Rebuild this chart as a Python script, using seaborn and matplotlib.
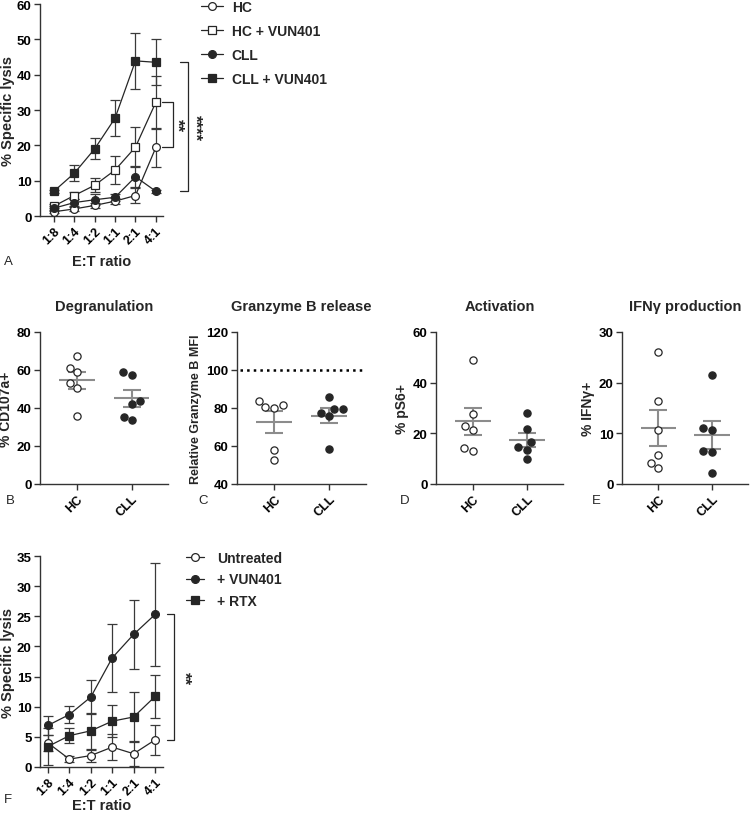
import matplotlib
import matplotlib.pyplot as plt
import numpy as np
import pandas as pd
import seaborn as sns

matplotlib.use("Agg")

# E:T ratio lysis curves (mean and SEM)
ratios = ["1:8", "1:4", "1:2", "1:1", "2:1", "4:1"]

hc = [1.2, 2.0, 3.0, 4.2, 5.8, 19.4]
hc_err = [0.3, 0.5, 0.6, 0.8, 2.0, 5.4]
hc_vun = [2.8, 5.8, 8.7, 13.0, 19.5, 32.2]
hc_vun_err = [0.5, 1.0, 2.0, 4.0, 5.7, 7.5]
cll = [2.2, 3.8, 4.6, 5.3, 11.1, 7.0]
cll_err = [0.5, 1.0, 1.5, 1.0, 3.0, 0.5]
cll_vun = [7.0, 12.1, 19.0, 27.7, 43.9, 43.5]
cll_vun_err = [0.5, 2.2, 3.0, 5.0, 8.0, 6.5]

untreated = [4.0, 1.3, 1.9, 3.3, 2.2, 4.5]
untreated_err = [1.3, 0.5, 1.0, 2.2, 2.1, 2.5]
plus_vun = [6.9, 8.7, 11.6, 18.1, 22.0, 25.3]
plus_vun_err = [1.6, 1.4, 2.8, 5.6, 5.7, 8.5]
plus_rtx = [3.4, 5.2, 6.0, 7.6, 8.3, 11.7]
plus_rtx_err = [3.0, 1.3, 3.0, 2.7, 4.2, 3.6]

# per-donor scatter values
groups = ["HC", "CLL"]
degran_hc = [67.5, 61.2, 58.8, 53.0, 50.5, 36.0]
degran_cll = [58.7, 57.5, 43.5, 42.3, 35.5, 33.5]
gzmb_hc = [83.9, 81.4, 80.7, 80.2, 57.7, 52.5]
gzmb_cll = [86.0, 79.5, 79.3, 77.2, 75.6, 58.4]
ps6_hc = [49.1, 27.5, 22.8, 21.2, 14.4, 13.2]
ps6_cll = [28.1, 21.9, 16.4, 14.6, 13.5, 9.9]
ifng_hc = [26.0, 16.3, 10.6, 5.7, 4.2, 3.2]
ifng_cll = [21.5, 11.0, 10.6, 6.5, 6.3, 2.1]

LINE = "#262626"
AXIS = "#333333"
GREY = "#8c8c8c"

sns.set_theme(style="ticks")
plt.rcParams["font.family"] = ["Liberation Sans", "DejaVu Sans"]
plt.rcParams["font.weight"] = "bold"
plt.rcParams["axes.labelweight"] = "bold"
plt.rcParams["axes.titleweight"] = "bold"
plt.rcParams["axes.edgecolor"] = AXIS
plt.rcParams["axes.linewidth"] = 1.0

fig = plt.figure(figsize=(7.5, 8.2), dpi=100)


def px_axes(left, top, right, bottom):
    return fig.add_axes([left / 750, 1 - bottom / 820, (right - left) / 750, (bottom - top) / 820])


def style_axes(ax, labelsize=9.5):
    sns.despine(ax=ax)
    ax.tick_params(length=4, width=1, color=AXIS, labelsize=labelsize, pad=2, labelcolor="black")


def lysis_series(ax, values, errs, marker, filled, label):
    pos = np.arange(len(values))
    ax.errorbar(pos, values, yerr=errs, fmt="none", ecolor="#3a3a3a", elinewidth=0.9,
                capsize=3.5, capthick=0.9, zorder=2, clip_on=False)
    sns.lineplot(x=pos, y=values, ax=ax, color=LINE, linewidth=0.9, marker=marker,
                 markersize=5.6 if marker == "o" else 5.8,
                 markerfacecolor=LINE if filled else "white", markeredgecolor=LINE,
                 markeredgewidth=0.9, label=label, zorder=3, clip_on=False)


def bracket(ax, x0, x1, y_top, y_bot, text, tx):
    ax.plot([x0, x1, x1, x0], [y_top, y_top, y_bot, y_bot], color=LINE, lw=0.9, clip_on=False)
    ax.text(tx, (y_top + y_bot) / 2, text, rotation=270, ha="center", va="center",
            fontsize=12, clip_on=False)


def lysis_axes(ax, ymax, step, labelpad):
    style_axes(ax)
    ax.set_ylim(0, ymax)
    ax.set_yticks(np.arange(0, ymax + 1, step))
    ax.set_xticks(np.arange(len(ratios)))
    ax.set_xticklabels(ratios, rotation=45, ha="right", rotation_mode="anchor", fontsize=9)
    ax.set_xlabel("E:T ratio", fontsize=10.5, labelpad=labelpad)
    ax.set_ylabel("% Specific lysis", fontsize=10.5, labelpad=1)


# ---- panel A ----
ax_a = px_axes(40, 5, 163, 217)
lysis_series(ax_a, hc, hc_err, "o", False, "HC")
lysis_series(ax_a, hc_vun, hc_vun_err, "s", False, "HC + VUN401")
lysis_series(ax_a, cll, cll_err, "o", True, "CLL")
lysis_series(ax_a, cll_vun, cll_vun_err, "s", True, "CLL + VUN401")
lysis_axes(ax_a, 60, 10, 6)
ax_a.set_xlim(-0.68, 5.35)
ax_a.legend(loc="upper left", bbox_to_anchor=(1.31, 1.02), frameon=False, borderaxespad=0,
            borderpad=0, handlelength=1.55, handletextpad=0.65, labelspacing=0.72,
            prop={"weight": "bold", "size": 10})
bracket(ax_a, 5.3, 5.85, hc_vun[-1], hc[-1], "**", 6.0)
bracket(ax_a, 6.2, 6.6, cll_vun[-1], cll[-1], "****", 6.9)

# ---- panel F ----
ax_f = px_axes(40, 557, 163, 768)
lysis_series(ax_f, untreated, untreated_err, "o", False, "Untreated")
lysis_series(ax_f, plus_vun, plus_vun_err, "o", True, "+ VUN401")
lysis_series(ax_f, plus_rtx, plus_rtx_err, "s", True, "+ RTX")
lysis_axes(ax_f, 35, 5, 1)
ax_f.set_xlim(-0.37, 5.37)
ax_f.legend(loc="upper left", bbox_to_anchor=(1.19, 1.025), frameon=False, borderaxespad=0,
            borderpad=0, handlelength=1.25, handletextpad=0.95, labelspacing=0.55,
            prop={"weight": "bold", "size": 10})
bracket(ax_f, 5.56, 5.89, plus_vun[-1], untreated[-1], "**", 6.35)


# ---- scatter panels B-E ----
def scatter_panel(ax, hc_vals, cll_vals, title, ylabel, ylim, step, ylabel_size=10):
    df = pd.DataFrame({
        "group": ["HC"] * len(hc_vals) + ["CLL"] * len(cll_vals),
        "value": hc_vals + cll_vals,
    })
    sns.swarmplot(data=df[df["group"] == "HC"], x="group", y="value", order=groups, ax=ax,
                  color="white", edgecolor=LINE, linewidth=0.9, size=5.2, zorder=3)
    sns.swarmplot(data=df[df["group"] == "CLL"], x="group", y="value", order=groups, ax=ax,
                  color=LINE, edgecolor=LINE, linewidth=0.9, size=5.2, zorder=3)
    stats = df.groupby("group", sort=False)["value"].agg(["mean", "sem"]).reindex(groups)
    pos = np.arange(len(groups))
    ax.hlines(stats["mean"], pos - 0.33, pos + 0.33, color=GREY, lw=1.5, zorder=2)
    ax.errorbar(pos, stats["mean"], yerr=stats["sem"], fmt="none", ecolor=GREY,
                elinewidth=1.5, capsize=6.5, capthick=1.5, zorder=2)
    style_axes(ax)
    ax.set_xlim(-0.68, 1.67)
    ax.set_ylim(*ylim)
    ax.set_yticks(np.arange(ylim[0], ylim[1] + 1, step))
    ax.set_xticks(pos)
    ax.set_xticklabels(groups, rotation=45, ha="right", rotation_mode="anchor", fontsize=9)
    ax.set_xlabel("")
    ax.set_ylabel(ylabel, fontsize=ylabel_size, labelpad=3)
    ax.set_title(title, fontsize=10.5, pad=16)


ax_b = px_axes(40, 333, 168, 485)
scatter_panel(ax_b, degran_hc, degran_cll, "Degranulation", "% CD107a+", (0, 80), 20)

ax_c = px_axes(237, 333, 366, 485)
ax_c.axhline(100, xmin=0.02, xmax=0.98, color="black", ls=":", lw=1.8)
scatter_panel(ax_c, gzmb_hc, gzmb_cll, "Granzyme B release", "Relative Granzyme B MFI",
              (40, 120), 20, ylabel_size=9)

ax_d = px_axes(436, 333, 563, 485)
scatter_panel(ax_d, ps6_hc, ps6_cll, "Activation", "% pS6+", (0, 60), 20)

ax_e = px_axes(622, 333, 748, 485)
scatter_panel(ax_e, ifng_hc, ifng_cll, "IFNγ production", "% IFNγ+", (0, 30), 10)

# panel letters
for letter, x, y in [("A", 8, 262), ("B", 10, 501), ("C", 203, 501),
                     ("D", 405, 501), ("E", 596, 501), ("F", 8, 800)]:
    fig.text(x / 750, 1 - y / 820, letter, fontsize=9.5, fontweight="normal",
             ha="center", va="center")

fig.savefig("out.png", dpi=100)
